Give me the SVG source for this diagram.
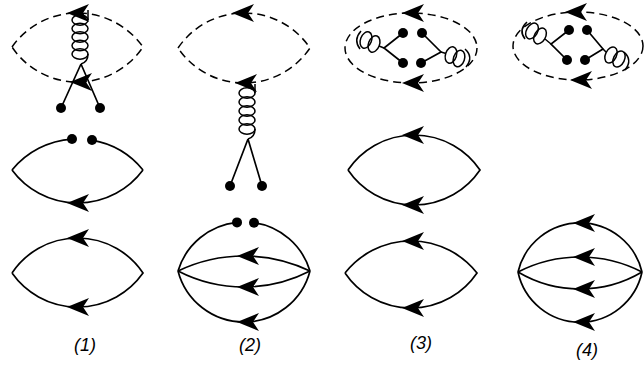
<svg xmlns="http://www.w3.org/2000/svg" xmlns:xlink="http://www.w3.org/1999/xlink" width="644" height="368" viewBox="0 0 644 368">
<style>
.s{fill:none;stroke:#000;stroke-width:1.7}
.d{fill:none;stroke:#000;stroke-width:1.5;stroke-dasharray:8 5}
.c{fill:none;stroke:#000;stroke-width:1.5}
.dot{fill:#000}
.lbl{font-family:"Liberation Sans",Arial,sans-serif;font-style:italic;font-size:18px;fill:#000;text-anchor:middle}
</style>
<defs>
<path id="ah" d="M0,0 L22,-9 L16,0 L22,9 Z" fill="#000"/>
</defs>
<rect width="644" height="368" fill="#fff"/>

<g id="diagram1">
  <g id="d1-connectors">
    <path class="d" d="M12,47 A80.1,80.1 0 0,1 143,47 A78.8,78.8 0 0,1 12,47"/>
    <path class="s" d="M12,170 A84.7,84.7 0 0,1 72,139.1"/>
    <path class="s" d="M92,140.2 A84.7,84.7 0 0,1 143,170"/>
    <path class="s" d="M143,170 A81.5,81.5 0 0,1 12,170"/>
    <path class="s" d="M12,273 A78.8,78.8 0 0,1 143,273 A80.1,80.1 0 0,1 12,273"/>
    <path class="s" d="M81,64 L61,108 M81,64 L100,108"/>
  </g>
  <g id="d1-coil" class="c">
    <ellipse cx="80" cy="20" rx="8" ry="5.2"/>
    <ellipse cx="80" cy="28.5" rx="8" ry="5.2"/>
    <ellipse cx="80" cy="37" rx="8" ry="5.2"/>
    <ellipse cx="80" cy="45.5" rx="8" ry="5.2"/>
    <ellipse cx="80" cy="54" rx="8" ry="5.2"/>
    <path d="M88,20 L88,10 M88,54 Q88,62 81,64"/>
  </g>
  <g id="d1-dots">
    <circle class="dot" cx="61" cy="108" r="5"/>
    <circle class="dot" cx="100" cy="108" r="5"/>
    <circle class="dot" cx="72" cy="139" r="5"/>
    <circle class="dot" cx="92" cy="140" r="5"/>
  </g>
  <g id="d1-arrows">
    <use href="#ah" x="67" y="13"/>
    <use href="#ah" x="70" y="82"/>
    <use href="#ah" x="67" y="203"/>
    <use href="#ah" x="67" y="238"/>
    <use href="#ah" x="67" y="307"/>
  </g>
  <text class="lbl" x="85" y="351">(1)</text>
</g>

<g id="diagram2">
  <g id="d2-connectors">
    <path class="d" d="M178,48 A79.7,79.7 0 0,1 310,48 A79.7,79.7 0 0,1 178,48"/>
    <path class="s" d="M178,271 A68.9,68.9 0 0,1 237,222.4"/>
    <path class="s" d="M254,222.7 A68.9,68.9 0 0,1 310,271"/>
    <path class="s" d="M178,271 A152.7,152.7 0 0,1 310,271"/>
    <path class="s" d="M310,271 A144.1,144.1 0 0,1 178,271"/>
    <path class="s" d="M310,271 A68.2,68.2 0 0,1 178,271"/>
    <path class="s" d="M248,139 L230,186 M248,139 L262,186"/>
  </g>
  <g id="d2-coil" class="c">
    <ellipse cx="247" cy="93" rx="8" ry="5.2"/>
    <ellipse cx="247" cy="102" rx="8" ry="5.2"/>
    <ellipse cx="247" cy="111" rx="8" ry="5.2"/>
    <ellipse cx="247" cy="120" rx="8" ry="5.2"/>
    <ellipse cx="247" cy="129" rx="8" ry="5.2"/>
    <path d="M255,93 L255,84 M255,129 Q255,137 248,139"/>
  </g>
  <g id="d2-dots">
    <circle class="dot" cx="230" cy="186" r="5"/>
    <circle class="dot" cx="262" cy="186" r="5"/>
    <circle class="dot" cx="237" cy="222.4" r="5"/>
    <circle class="dot" cx="254" cy="222.7" r="5"/>
  </g>
  <g id="d2-arrows">
    <use href="#ah" x="232" y="13"/>
    <use href="#ah" x="235" y="83"/>
    <use href="#ah" x="237" y="256"/>
    <use href="#ah" x="237" y="287"/>
    <use href="#ah" x="237" y="322"/>
  </g>
  <text class="lbl" x="250" y="351">(2)</text>
</g>

<g id="diagram3">
  <g id="d3-connectors">
    <ellipse class="d" cx="411" cy="48" rx="66" ry="35"/>
    <path class="s" d="M348,170 A79.7,79.7 0 0,1 480,170 A79.7,79.7 0 0,1 348,170"/>
    <path class="s" d="M345,273 A84.1,84.1 0 0,1 477,273 A79.7,79.7 0 0,1 345,273"/>
    <path class="s" d="M403,33 L384,48 L403,63 M422,33 L441,52 L421,63"/>
  </g>
  <g id="d3-coils" class="c">
    <ellipse cx="366" cy="40" rx="5.5" ry="8.5" transform="rotate(21 366 40)"/>
    <ellipse cx="374" cy="44" rx="5.5" ry="8.5" transform="rotate(21 374 44)"/>
    <path d="M379,46 L384,48 M361,31 Q353,40 360,49"/>
    <ellipse cx="451" cy="55" rx="5.5" ry="8.5" transform="rotate(18 451 55)"/>
    <ellipse cx="459" cy="58.5" rx="5.5" ry="8.5" transform="rotate(18 459 58.5)"/>
    <path d="M441,52 L446,53.5 M465,49 Q474,57 466,67"/>
  </g>
  <g id="d3-dots">
    <circle class="dot" cx="403" cy="33" r="5"/>
    <circle class="dot" cx="422" cy="33" r="5"/>
    <circle class="dot" cx="403" cy="63" r="5"/>
    <circle class="dot" cx="421" cy="63" r="5"/>
  </g>
  <g id="d3-arrows">
    <use href="#ah" x="402" y="13"/>
    <use href="#ah" x="402" y="83"/>
    <use href="#ah" x="402" y="135"/>
    <use href="#ah" x="402" y="205"/>
    <use href="#ah" x="402" y="241"/>
    <use href="#ah" x="402" y="308"/>
  </g>
  <text class="lbl" x="421" y="349">(3)</text>
</g>

<g id="diagram4">
  <g id="d4-connectors">
    <ellipse class="d" cx="578" cy="46" rx="65" ry="34"/>
    <path class="s" d="M518,272 A63.7,63.7 0 0,1 642,272"/>
    <path class="s" d="M518,272 A135.6,135.6 0 0,1 642,272"/>
    <path class="s" d="M642,272 A121.6,121.6 0 0,1 518,272"/>
    <path class="s" d="M642,272 A63.4,63.4 0 0,1 518,272"/>
    <path class="s" d="M569,30 L551,44 L567,60 M587,30 L603,49 L585,60"/>
  </g>
  <g id="d4-coils" class="c">
    <ellipse cx="532" cy="31" rx="5.5" ry="8.5" transform="rotate(30 532 31)"/>
    <ellipse cx="540" cy="36" rx="5.5" ry="8.5" transform="rotate(30 540 36)"/>
    <path d="M545,39 L551,44 M527,22 Q518,30 525,39"/>
    <ellipse cx="611" cy="55" rx="5.5" ry="8.5" transform="rotate(26 611 55)"/>
    <ellipse cx="619" cy="59" rx="5.5" ry="8.5" transform="rotate(26 619 59)"/>
    <path d="M603,49 L606,52 M624,52 Q633,60 625,70"/>
  </g>
  <g id="d4-dots">
    <circle class="dot" cx="569" cy="30" r="5"/>
    <circle class="dot" cx="587" cy="30" r="5"/>
    <circle class="dot" cx="567" cy="60" r="5"/>
    <circle class="dot" cx="585" cy="60" r="5"/>
  </g>
  <g id="d4-arrows">
    <use href="#ah" x="565" y="12"/>
    <use href="#ah" x="570" y="80"/>
    <use href="#ah" x="573" y="223"/>
    <use href="#ah" x="573" y="257"/>
    <use href="#ah" x="573" y="289"/>
    <use href="#ah" x="573" y="322"/>
  </g>
  <text class="lbl" x="587" y="356">(4)</text>
</g>
</svg>
